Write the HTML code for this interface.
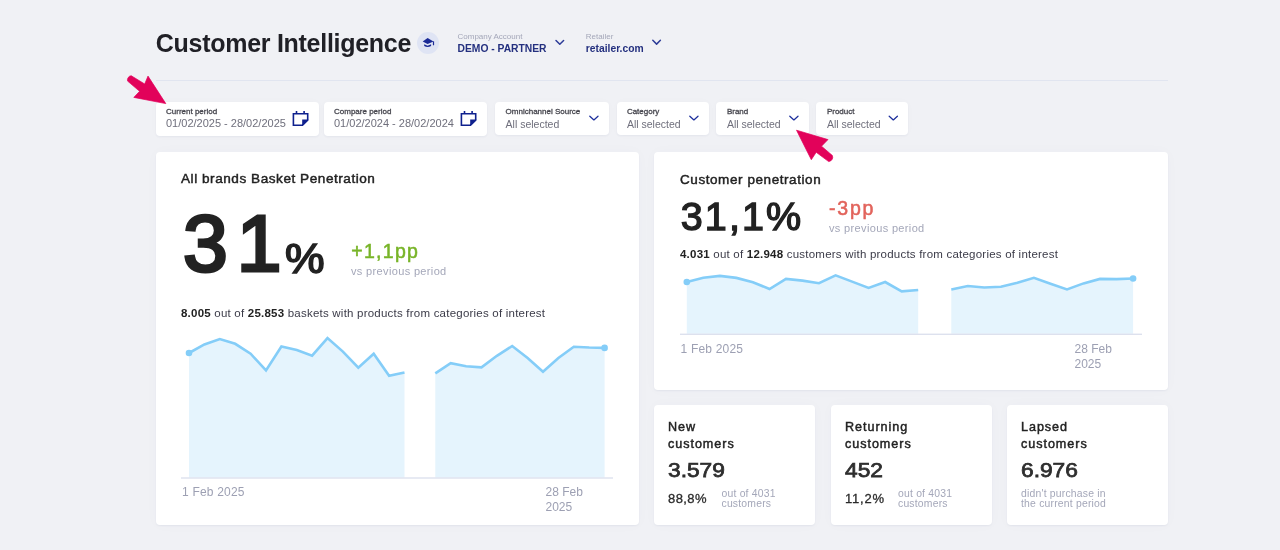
<!DOCTYPE html>
<html><head><meta charset="utf-8"><title>Customer Intelligence</title>
<style>
*{box-sizing:border-box;margin:0;padding:0}
html,body{width:1280px;height:550px;overflow:hidden}
body{background:#f0f1f5;font-family:"Liberation Sans",Arial,sans-serif;color:#222;position:relative}
.t{position:absolute;white-space:nowrap;line-height:1}
.box{position:absolute;background:#fff;border-radius:4px}
.f{top:101.5px;height:33.3px;box-shadow:0 1px 2px rgba(40,50,110,.05),0 0 10px rgba(40,50,110,.02)}
.card{position:absolute;background:#fff;border-radius:4px;box-shadow:0 1px 2px rgba(40,50,110,.06),0 0 14px rgba(40,50,110,.025)}
.lbl{font-size:8px;color:#47474f;-webkit-text-stroke:0.3px #47474f}
.val{font-size:11px;color:#6f6f7c}
.b{font-weight:bold}
.gray{color:#a4a7b9}
svg{position:absolute;left:0;top:0}
</style></head>
<body>
<!-- header -->
<div class="t b" style="left:155.8px;top:30.8px;font-size:25px;letter-spacing:-0.28px;color:#202026">Customer Intelligence</div>
<div class="box" style="left:417px;top:32px;width:22px;height:22px;border-radius:50%;background:#dfe4f4"></div>
<div class="t gray" style="left:457.5px;top:33px;font-size:8px">Company Account</div>
<div class="t b" style="left:457.5px;top:44px;font-size:10.3px;color:#24307f">DEMO - PARTNER</div>
<div class="t gray" style="left:585.8px;top:33px;font-size:8px">Retailer</div>
<div class="t b" style="left:585.8px;top:44px;font-size:10.3px;color:#24307f">retailer.com</div>
<div style="position:absolute;left:156px;top:80px;width:1012px;height:1px;background:#e1e5f0"></div>

<!-- filters -->
<div class="box f" style="left:156px;width:163px;height:34.7px"></div>
<div class="box f" style="left:324px;width:163px;height:34.7px"></div>
<div class="box f" style="left:495px;width:114px"></div>
<div class="box f" style="left:617px;width:92px"></div>
<div class="box f" style="left:716px;width:93px"></div>
<div class="box f" style="left:816px;width:92px"></div>

<div class="t lbl" style="left:166px;top:107.5px">Current period</div>
<div class="t val" style="left:166px;top:117.9px">01/02/2025 - 28/02/2025</div>
<div class="t lbl" style="left:334px;top:107.5px">Compare period</div>
<div class="t val" style="left:334px;top:117.9px">01/02/2024 - 28/02/2024</div>
<div class="t lbl" style="left:505.6px;top:107.5px">Omnichannel Source</div>
<div class="t val" style="left:505.6px;top:118.8px;font-size:10.5px">All selected</div>
<div class="t lbl" style="left:626.9px;top:107.5px">Category</div>
<div class="t val" style="left:626.9px;top:118.8px;font-size:10.5px">All selected</div>
<div class="t lbl" style="left:726.9px;top:107.5px">Brand</div>
<div class="t val" style="left:726.9px;top:118.8px;font-size:10.5px">All selected</div>
<div class="t lbl" style="left:826.9px;top:107.5px">Product</div>
<div class="t val" style="left:826.9px;top:118.8px;font-size:10.5px">All selected</div>

<!-- cards -->
<div class="card" style="left:156px;top:152px;width:483px;height:372.8px"></div>
<div class="card" style="left:654px;top:152px;width:514px;height:238px"></div>
<div class="card" style="left:654px;top:404.8px;width:161px;height:120px"></div>
<div class="card" style="left:831px;top:404.8px;width:161px;height:120px"></div>
<div class="card" style="left:1007px;top:404.8px;width:161px;height:120px"></div>

<!-- left card -->
<div class="t" style="left:181px;top:172.4px;font-size:13.6px;letter-spacing:0.53px;color:#222;-webkit-text-stroke:0.45px #222">All brands Basket Penetration</div>
<div class="t" style="left:183px;top:202.6px;font-size:80.5px;letter-spacing:9px;color:#222;-webkit-text-stroke:3.2px #222">31</div>
<div class="t" style="left:285px;top:238px;font-size:42px;color:#222;-webkit-text-stroke:1.6px #222;transform:scaleX(1.06);transform-origin:0 0">%</div>
<div class="t" style="left:351.2px;top:241.6px;font-size:19.5px;letter-spacing:1.3px;color:#78b428;-webkit-text-stroke:0.55px #78b428">+1,1pp</div>
<div class="t gray" style="left:351px;top:265.5px;font-size:11px;letter-spacing:0.35px">vs previous period</div>
<div class="t" style="left:181px;top:307.6px;font-size:11.5px;letter-spacing:0.22px;color:#3b3b48"><span class="b" style="color:#222">8.005</span> out of <span class="b" style="color:#222">25.853</span> baskets with products from categories of interest</div>
<div class="t" style="left:182px;top:486.3px;font-size:12px;letter-spacing:0.2px;color:#9da0b3">1 Feb 2025</div>
<div class="t" style="left:545.5px;top:486.3px;font-size:12px;color:#9da0b3">28 Feb</div>
<div class="t" style="left:545.5px;top:501.3px;font-size:12px;color:#9da0b3">2025</div>

<!-- right card -->
<div class="t" style="left:680px;top:172.9px;font-size:13.5px;letter-spacing:0.57px;color:#222;-webkit-text-stroke:0.45px #222">Customer penetration</div>
<div class="t" style="left:680.8px;top:197px;font-size:39.5px;letter-spacing:2.1px;color:#222;-webkit-text-stroke:1.4px #222">31,1%</div>
<div class="t" style="left:829px;top:198.9px;font-size:19.5px;letter-spacing:1.8px;color:#e2645c;-webkit-text-stroke:0.55px #e2645c">-3pp</div>
<div class="t gray" style="left:829px;top:222.7px;font-size:11px;letter-spacing:0.35px">vs previous period</div>
<div class="t" style="left:680px;top:248.8px;font-size:11.5px;letter-spacing:0.22px;color:#3b3b48"><span class="b" style="color:#222">4.031</span> out of <span class="b" style="color:#222">12.948</span> customers with products from categories of interest</div>
<div class="t" style="left:680.5px;top:342.8px;font-size:12px;letter-spacing:0.2px;color:#9da0b3">1 Feb 2025</div>
<div class="t" style="left:1074.5px;top:342.8px;font-size:12px;color:#9da0b3">28 Feb</div>
<div class="t" style="left:1074.5px;top:357.6px;font-size:12px;color:#9da0b3">2025</div>

<!-- small cards -->
<div class="t" style="left:668px;top:418.7px;font-size:12.6px;line-height:17.2px;letter-spacing:0.95px;color:#222;-webkit-text-stroke:0.45px #222">New<br>customers</div>
<div class="t b" style="left:668px;top:460.8px;font-weight:normal;font-size:19.8px;color:#2e2e2e;-webkit-text-stroke:0.75px #2e2e2e;transform:scaleX(1.15);transform-origin:0 0">3.579</div>
<div class="t" style="left:668px;top:492px;font-size:13px;letter-spacing:0.4px;color:#2a2a2a;-webkit-text-stroke:0.3px #2a2a2a">88,8%</div>
<div class="t gray" style="left:721.5px;top:488.5px;font-size:10.4px;line-height:10px;letter-spacing:0.2px">out of 4031<br>customers</div>

<div class="t" style="left:845px;top:418.7px;font-size:12.6px;line-height:17.2px;letter-spacing:0.95px;color:#222;-webkit-text-stroke:0.45px #222">Returning<br>customers</div>
<div class="t b" style="left:845px;top:460.8px;font-weight:normal;font-size:19.8px;color:#2e2e2e;-webkit-text-stroke:0.75px #2e2e2e;transform:scaleX(1.15);transform-origin:0 0">452</div>
<div class="t" style="left:845px;top:492px;font-size:13px;letter-spacing:0.8px;color:#2a2a2a;-webkit-text-stroke:0.3px #2a2a2a">11,2%</div>
<div class="t gray" style="left:898px;top:488.5px;font-size:10.4px;line-height:10px;letter-spacing:0.2px">out of 4031<br>customers</div>

<div class="t" style="left:1021px;top:418.7px;font-size:12.6px;line-height:17.2px;letter-spacing:0.95px;color:#222;-webkit-text-stroke:0.45px #222">Lapsed<br>customers</div>
<div class="t b" style="left:1021px;top:460.8px;font-weight:normal;font-size:19.8px;color:#2e2e2e;-webkit-text-stroke:0.75px #2e2e2e;transform:scaleX(1.15);transform-origin:0 0">6.976</div>
<div class="t gray" style="left:1021px;top:488.5px;font-size:10.4px;line-height:10px;letter-spacing:0.2px">didn't purchase in<br>the current period</div>

<svg width="1280" height="550" viewBox="0 0 1280 550">
<polygon points="189.0,477.6 189.0,353.0 204.4,344.4 219.8,339.0 235.2,343.8 250.6,353.7 266.0,370.4 281.4,346.5 296.8,350.1 312.1,355.7 327.5,338.1 342.9,351.6 358.3,367.7 373.7,353.7 389.1,375.8 404.5,372.4 404.5,477.6" fill="#e5f4fd"/>
<polygon points="435.3,477.6 435.3,373.3 450.7,363.2 466.1,366.3 481.5,367.3 496.9,355.8 512.2,346.0 527.6,358.0 543.0,371.8 558.4,358.0 573.8,346.7 589.2,347.5 604.6,347.9 604.6,477.6" fill="#e5f4fd"/>
<polygon points="686.8,333.8 686.8,282.0 703.3,277.7 719.9,275.9 736.4,277.9 752.9,282.2 769.5,289.0 786.0,278.9 802.5,280.6 819.0,283.2 835.6,275.4 852.1,281.6 868.6,287.9 885.2,282.0 901.7,291.4 918.2,290.0 918.2,333.8" fill="#e5f4fd"/>
<polygon points="951.3,333.8 951.3,289.4 967.8,286.0 984.3,287.5 1000.9,286.8 1017.4,282.8 1033.9,277.8 1050.5,283.8 1067.0,289.4 1083.5,283.4 1100.0,278.9 1116.6,279.1 1133.1,278.5 1133.1,333.8" fill="#e5f4fd"/>
<rect x="181" y="477.3" width="432" height="1.4" fill="#dde1ee"/>
<rect x="680" y="333.6" width="462" height="1.4" fill="#dde1ee"/>
<polyline points="189.0,353.0 204.4,344.4 219.8,339.0 235.2,343.8 250.6,353.7 266.0,370.4 281.4,346.5 296.8,350.1 312.1,355.7 327.5,338.1 342.9,351.6 358.3,367.7 373.7,353.7 389.1,375.8 404.5,372.4" fill="none" stroke="#84cdf8" stroke-width="2.6" stroke-linejoin="miter" stroke-linecap="butt"/>
<polyline points="435.3,373.3 450.7,363.2 466.1,366.3 481.5,367.3 496.9,355.8 512.2,346.0 527.6,358.0 543.0,371.8 558.4,358.0 573.8,346.7 589.2,347.5 604.6,347.9" fill="none" stroke="#84cdf8" stroke-width="2.6" stroke-linejoin="miter" stroke-linecap="butt"/>
<polyline points="686.8,282.0 703.3,277.7 719.9,275.9 736.4,277.9 752.9,282.2 769.5,289.0 786.0,278.9 802.5,280.6 819.0,283.2 835.6,275.4 852.1,281.6 868.6,287.9 885.2,282.0 901.7,291.4 918.2,290.0" fill="none" stroke="#84cdf8" stroke-width="2.6" stroke-linejoin="miter" stroke-linecap="butt"/>
<polyline points="951.3,289.4 967.8,286.0 984.3,287.5 1000.9,286.8 1017.4,282.8 1033.9,277.8 1050.5,283.8 1067.0,289.4 1083.5,283.4 1100.0,278.9 1116.6,279.1 1133.1,278.5" fill="none" stroke="#84cdf8" stroke-width="2.6" stroke-linejoin="miter" stroke-linecap="butt"/>
<circle cx="189.0" cy="353.0" r="3.3" fill="#84cdf8"/>
<circle cx="604.6" cy="347.9" r="3.3" fill="#84cdf8"/>
<circle cx="686.8" cy="282.0" r="3.3" fill="#84cdf8"/>
<circle cx="1133.1" cy="278.5" r="3.3" fill="#84cdf8"/>
<g fill="none" stroke="#0f218e" stroke-width="1.6">
<path d="M293.4,113.7H307.7V120.2L302.5,125.2H293.4Z"/>
<path d="M296.5,111V113.5M304.1,111V113.5"/>
<path d="M461.4,113.7H475.7V120.2L470.5,125.2H461.4Z"/>
<path d="M464.5,111V113.5M472.1,111V113.5"/>
</g>
<g fill="#0f218e">
<path d="M302.2,119.4H308.5L302.2,126Z"/>
<path d="M470.2,119.4H476.5L470.2,126Z"/>
</g>
<g fill="none" stroke="#1d2f9c" stroke-width="1.3" stroke-linecap="round" stroke-linejoin="round">
<path d="M589.8,116.3L593.9,119.9L598,116.3"/>
<path d="M689.8,116.3L693.9,119.9L698,116.3"/>
<path d="M789.8,116.3L793.9,119.9L798,116.3"/>
<path d="M889.2,116.3L893.3,119.9L897.4,116.3"/>
</g>
<g fill="none" stroke="#2d3c98" stroke-width="1.5" stroke-linecap="round" stroke-linejoin="round">
<path d="M556,40.5L559.8,44.3L563.6,40.5"/>
<path d="M652.8,40.3L656.6,44.1L660.4,40.3"/>
</g>
<g fill="#1b2a96">
<path d="M422.7,41.4L427.6,38.1L433.5,41.4L427.6,43.9Z"/>
<path d="M424.2,44.2L427.6,45.8L431.1,44.2V46Q427.6,48.2 424.2,46Z"/>
<rect x="432.9" y="41.3" width="1.2" height="4" rx="0.5"/>
</g>
<g fill="#e2025a">
<path d="M131.2,75.7L144.7,84L148,76.1L165.8,103.6L133.8,97.4L139.6,91.3L127.6,81.1A4.3,4.3 0 0 1 131.2,75.7Z" stroke="#e2025a" stroke-width="0.7" stroke-linejoin="round"/>
<path d="M796.5,130.2L828,139.6L821.5,146.2L832.4,155.5A4.5,4.5 0 0 1 828.7,161.6L816.2,152.3L811.3,159.7Z" stroke="#e2025a" stroke-width="0.7" stroke-linejoin="round"/>
</g>
</svg>
</body></html>
